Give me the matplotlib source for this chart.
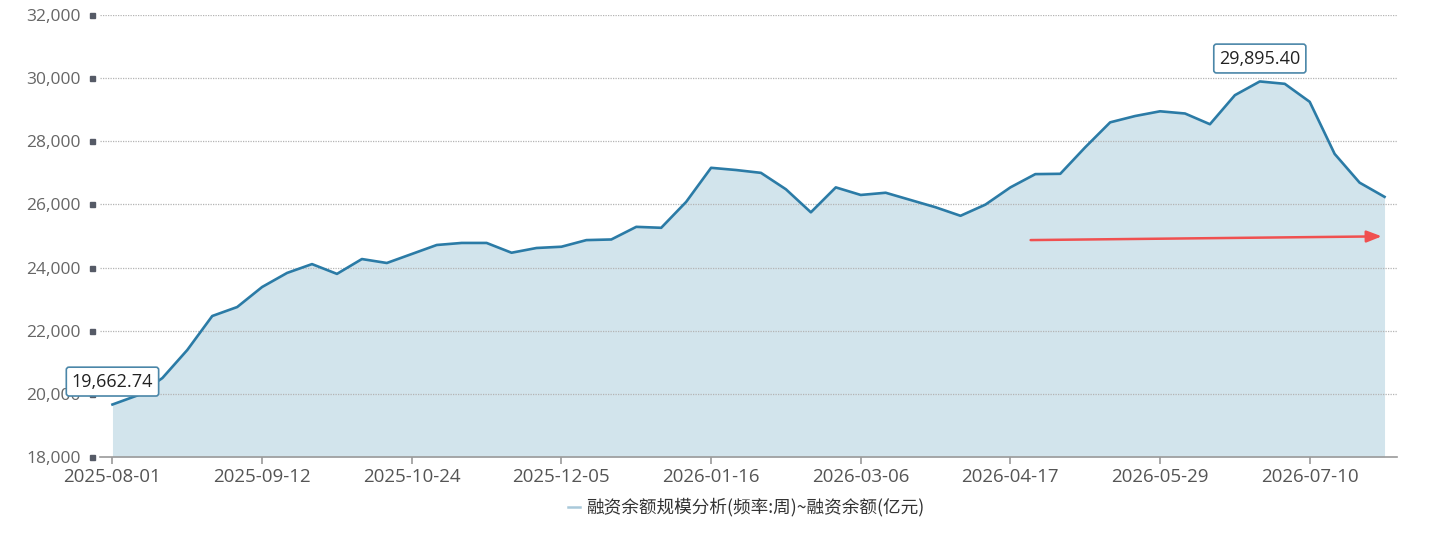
import matplotlib
matplotlib.use("Agg")
import matplotlib.pyplot as plt
import matplotlib.transforms as mtransforms
from matplotlib.lines import Line2D
import pandas as pd
import numpy as np

plt.rcParams['font.family'] = ['Noto Sans CJK SC', 'DejaVu Sans']

# weekly dates, the spring festival week (2026-02-20) has no data
weeks = pd.date_range('2025-08-01', '2026-07-31', freq='7D')
dates = [d.strftime('%Y-%m-%d') for d in weeks if d.strftime('%Y-%m-%d') != '2026-02-20']

balance = [
    19662.74, 19950, 20500, 21390, 22466, 22750, 23385, 23830, 24110, 23800,
    24270, 24145, 24430, 24715, 24780, 24780, 24470, 24620, 24660, 24870,
    24890, 25290, 25260, 26080, 27160, 27090, 27000, 26480, 25750, 26540,
    26300, 26370, 26140, 25910, 25640, 25995, 26540, 26960, 26970, 27810,
    28600, 28800, 28950, 28880, 28540, 29460, 29895.40, 29820, 29250, 27600,
    26690, 26240,
]

y_ticks = [18000, 20000, 22000, 24000, 26000, 28000, 30000, 32000]
legend_label = '融资余额规模分析(频率:周)~融资余额(亿元)'

# hand drawn red arrow (start / end as index, value)
arrow_start = (36.7, 24870)
arrow_end = (51.0, 24990)

line_color = '#2b7ba6'
fill_color = '#d2e4ec'
tick_font = ['Open Sans', 'DejaVu Sans']

fig = plt.figure(figsize=(14.49, 5.33), dpi=100)
ax = fig.add_axes([100 / 1449, 76 / 533, 1297 / 1449, 442 / 533])

x = np.arange(len(balance))
ax.fill_between(x, y_ticks[0], balance, color=fill_color, lw=0, zorder=1)
ax.plot(x, balance, color=line_color, lw=1.9, zorder=3)

ax.set_xlim(-0.5, len(balance) - 0.5)
ax.set_ylim(y_ticks[0], y_ticks[-1])

# grid
for v in y_ticks[1:]:
    ax.axhline(v, color='#b4b4b4', lw=0.9, ls=(0, (1, 1)), zorder=2)

for s in ['top', 'right', 'left']:
    ax.spines[s].set_visible(False)
ax.spines['bottom'].set_color('#9a9a9a')
ax.spines['bottom'].set_linewidth(1.2)

ax.set_yticks(y_ticks)
ax.set_yticklabels([f'{v:,}' for v in y_ticks], color='#666666', fontsize=12.5,
                   family=tick_font)
ax.tick_params(axis='y', length=0, pad=14)
# small square tick markers on the y axis
trans = mtransforms.blended_transform_factory(ax.transAxes, ax.transData)
ax.plot([-0.0062] * len(y_ticks), y_ticks, 's', ms=3.6, color='#555a66',
        transform=trans, clip_on=False, zorder=5)

tick_idx = list(range(0, len(dates), 6))
ax.set_xticks(tick_idx)
ax.set_xticklabels([dates[i] for i in tick_idx], color='#555555', fontsize=13.5,
                   family=tick_font)
ax.tick_params(axis='x', length=5, color='#9a9a9a', width=1.2, pad=3)

# max / min labels
for idx in [int(np.argmin(balance)), int(np.argmax(balance))]:
    ax.annotate(f'{balance[idx]:,.2f}', (idx, balance[idx]), xytext=(0, 16.5),
                textcoords='offset points', ha='center', va='center',
                fontsize=13, color='#222222', family=tick_font, zorder=6,
                bbox=dict(boxstyle='round,pad=0.3,rounding_size=0.15',
                          fc='white', ec='#4a86a8', lw=1.2))

ax.annotate('', xy=arrow_end, xytext=arrow_start,
            arrowprops=dict(arrowstyle='-|>,head_length=0.9,head_width=0.35',
                            color='#f05050', lw=1.8), zorder=6)

# legend
fig.add_artist(Line2D([568 / 1449, 580 / 1449], [0.049, 0.049], color='#a9c9da',
                      lw=1.8, transform=fig.transFigure))
fig.text(586 / 1449, 0.049, legend_label, color='#333333', fontsize=12.7,
         ha='left', va='center')

fig.savefig('out.png', dpi=100)
